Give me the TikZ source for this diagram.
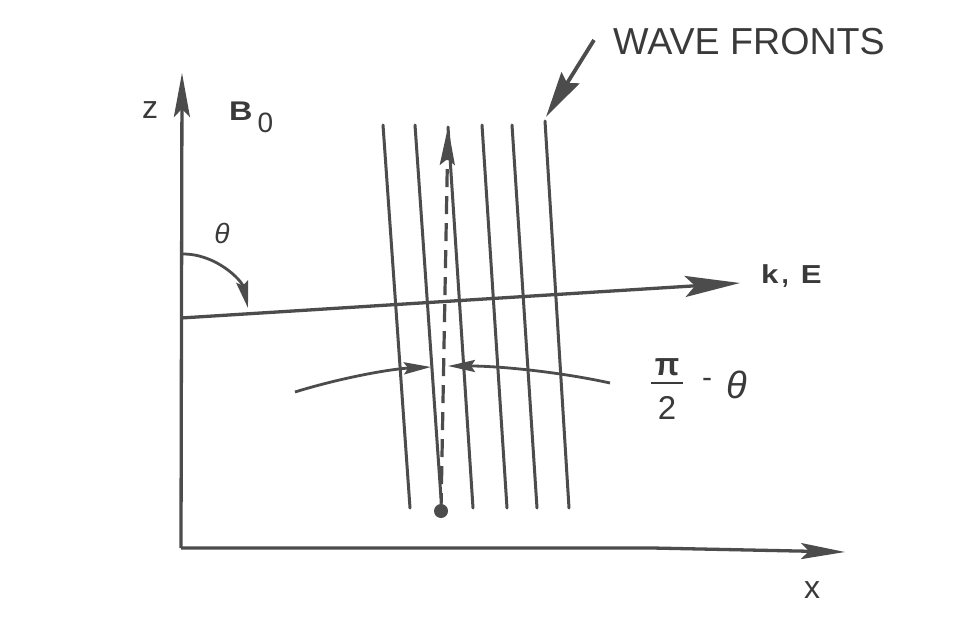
\documentclass[tikz,border=0pt]{standalone}
\usepackage{fontspec}
\setmainfont{Liberation Sans}
\usetikzlibrary{arrows.meta}
\definecolor{ink}{HTML}{4C4C4C}
\definecolor{txt}{HTML}{3A3A3A}
\begin{document}
\begin{tikzpicture}[x=1pt,y=-1pt,
  ln/.style={draw=ink,line width=3.3pt},
  wf/.style={draw=ink,line width=3pt,line cap=round},
  axtip/.style={-{Stealth[length=44pt,width=16pt,inset=8pt]}},
  ktip/.style={-{Stealth[length=55pt,width=21pt,inset=10pt]}},
  ptrtip/.style={-{Stealth[length=46pt,width=21pt,inset=6pt]}},
  smalltip/.style={-{Stealth[length=27pt,width=12pt,inset=4pt]}},
  dashtip/.style={-{Stealth[length=38pt,width=15pt,inset=6pt]}},
  lbl/.style={text=txt,inner sep=0pt}]
\fill[white] (0,0) rectangle (966,623);
\useasboundingbox (0,0) rectangle (966,623);

% coordinates
\coordinate (O) at (181,548);
\coordinate (ztop) at (182,73);
\coordinate (xmid) at (652,548);
\coordinate (xend) at (845,552);
\coordinate (kstart) at (181,318);
\coordinate (kend) at (740,283);
\coordinate (thA) at (183,254);
\coordinate (thB) at (248,308);
\coordinate (w1a) at (383,125); \coordinate (w1b) at (410,508);
\coordinate (w2a) at (415,125); \coordinate (w2b) at (441,498);
\coordinate (w3a) at (448,127); \coordinate (w3b) at (473,508);
\coordinate (w4a) at (482,125); \coordinate (w4b) at (507,508);
\coordinate (w5a) at (512,125); \coordinate (w5b) at (537,508);
\coordinate (w6a) at (545,121); \coordinate (w6b) at (569,508);
\coordinate (dot) at (441,511);
\coordinate (ptrA) at (594,40);
\coordinate (ptrB) at (546,117);
\coordinate (lA) at (295,392);
\coordinate (lB) at (431,367);
\coordinate (rA) at (610,383);
\coordinate (rB) at (448,366);
\coordinate (barL) at (651,383);
\coordinate (barR) at (683,383);

% axes
\draw[ln,axtip] (O) -- (ztop);
\draw[ln,axtip] (O) -- (xmid) -- (xend);

% k line
\draw[ln,ktip] (kstart) -- (kend);

% theta arc
\draw[ln,line width=2.8pt,smalltip] (thA) .. controls (217,254) and (242,281) .. (thB);

% wave fronts
\draw[wf] (w1a) -- (w1b);
\draw[wf] (w2a) -- (w2b);
\draw[wf] (w3a) -- (w3b);
\draw[wf] (w4a) -- (w4b);
\draw[wf] (w5a) -- (w5b);
\draw[wf] (w6a) -- (w6b);

% dashed B0 direction
\draw[draw=ink,line width=3.2pt,dash pattern=on 18pt off 9pt,dashtip] (dot) -- (w3a);
\fill[ink] (dot) circle (7pt);

% pointer to wave fronts
\draw[draw=ink,line width=3.8pt,ptrtip] (ptrA) -- (ptrB);

% pi/2 - theta arrows
\draw[ln,line width=2.8pt,smalltip] (lA) .. controls (340,378) and (390,369) .. (lB);
\draw[ln,line width=2.8pt,smalltip] (rA) .. controls (560,372) and (500,366) .. (rB);
\draw[draw=txt,line width=2.4pt] (barL) -- (barR);

% labels
\node[lbl,anchor=center,font=\fontsize{32}{32}\selectfont] (zl) at (150,110) {z};
\node[lbl,anchor=base west,font=\fontsize{27}{28}\selectfont] (bl) at (229,121)
  {\scalebox{1.2}[1]{\bfseries B}\hspace{5pt}\raisebox{-12pt}{\mdseries\fontsize{28}{28}\selectfont 0}};
\node[lbl,anchor=center,font=\fontsize{28}{28}\selectfont\itshape] (th1) at (222,233) {θ};
\node[lbl,anchor=base west,font=\fontsize{26}{28}\selectfont\bfseries] (kl) at (761,283)
  {\scalebox{1.2}[1]{k}\hspace{3pt},\hspace{12pt}\scalebox{1.2}[1]{E}};
\node[lbl,anchor=base west,font=\fontsize{37.6}{40}\selectfont] (wl) at (613,55) {WAVE FRONTS};
\node[lbl,anchor=center,font=\fontsize{32}{32}\selectfont] (xl) at (812,590) {x};
\node[lbl,anchor=center,font=\fontsize{32}{32}\selectfont\bfseries] (pil) at (667,367) {π};
\node[lbl,anchor=center,font=\fontsize{33}{33}\selectfont] (twol) at (667,408) {2};
\node[lbl,anchor=center,font=\fontsize{30}{30}\selectfont] (minl) at (707,383) {-};
\node[lbl,anchor=center,font=\fontsize{38}{38}\selectfont\itshape] (th2) at (737,385) {θ};
\end{tikzpicture}
\end{document}
